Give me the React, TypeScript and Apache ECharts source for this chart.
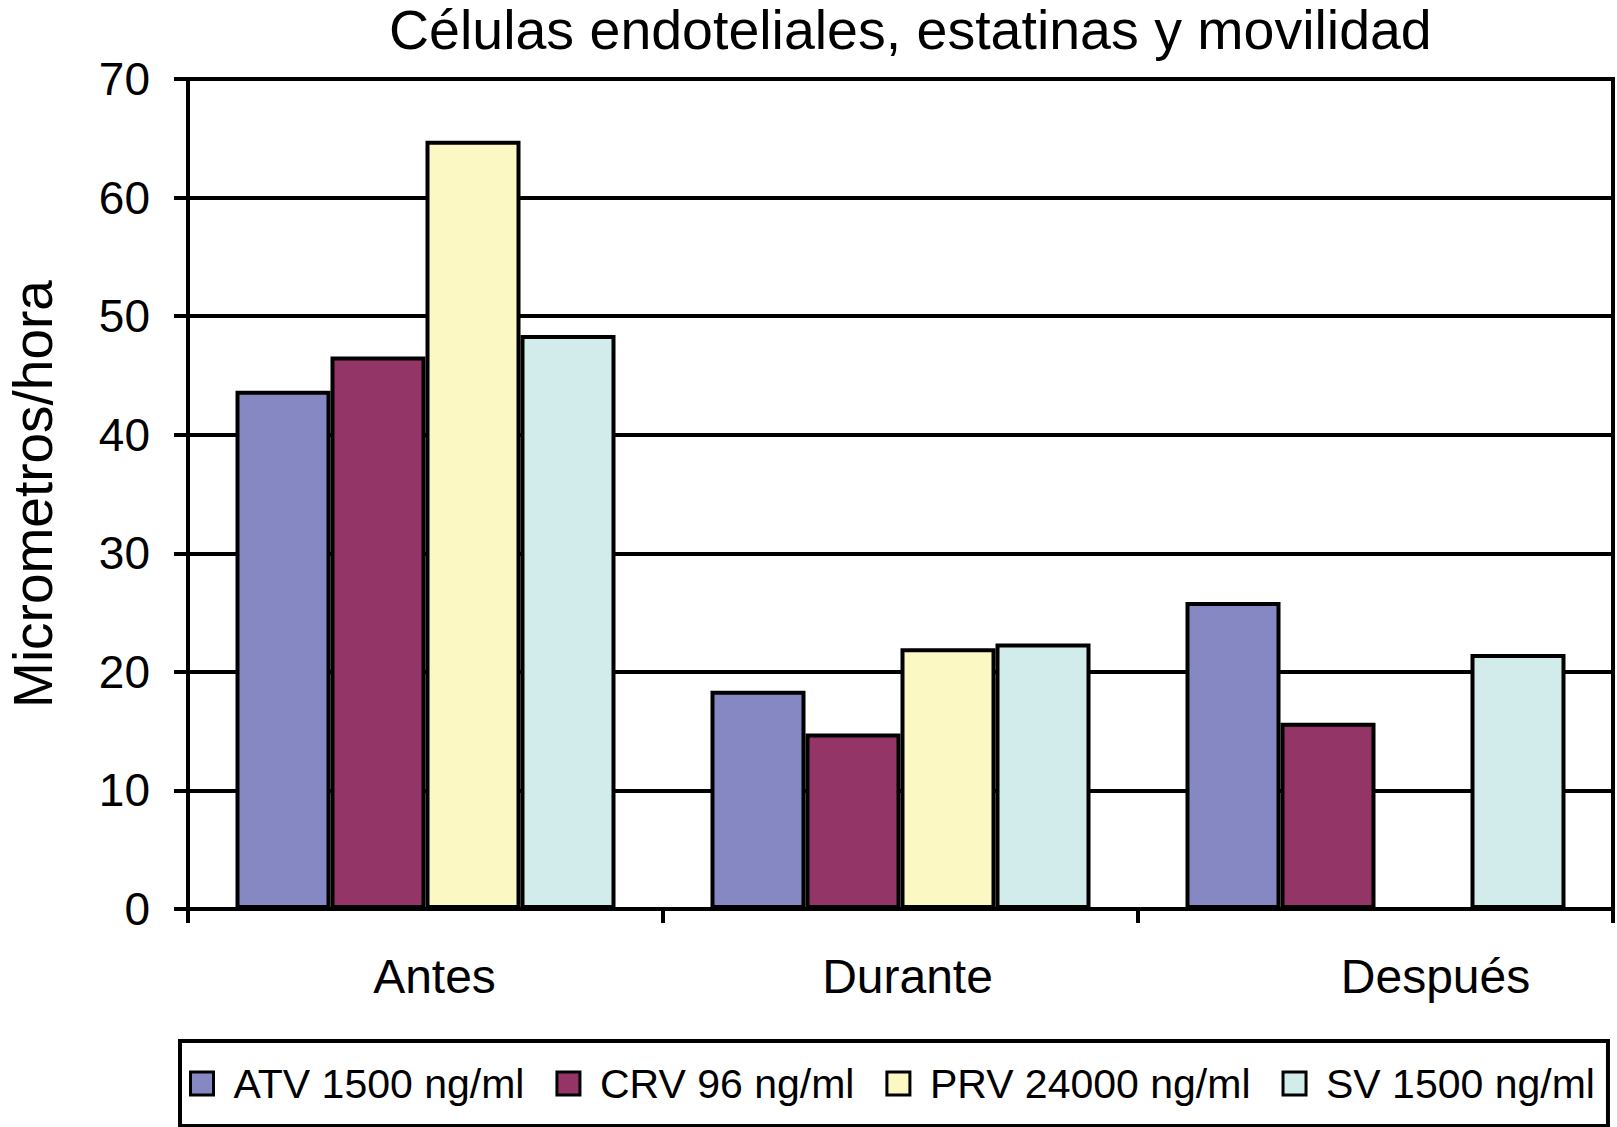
import React, { useEffect, useRef } from "react";
import * as echarts from "echarts";

const categories = ["Antes", "Durante", "Después"];
const seriesNames = ["ATV 1500 ng/ml", "CRV 96 ng/ml", "PRV 24000 ng/ml", "SV 1500 ng/ml"];
const atv = [43.7, 18.4, 25.9];
const crv = [46.6, 14.8, 15.7];
const prv = [64.8, 22.0, null];
const sv = [48.4, 22.4, 21.5];
const colors = ["#8688C3", "#933667", "#FBF8C4", "#D2EBEB"];

const FONT = "Liberation Sans, Arial, Helvetica, sans-serif";

export default function App() {
  const ref = useRef<HTMLDivElement>(null);
  useEffect(() => {
    if (!ref.current) return;
    const chart = echarts.init(ref.current, null, { renderer: "svg" });
    const values = [atv, crv, prv, sv];
    const labelShift: Record<string, number> = { Antes: 18, Durante: 14, "Después": 120 };
    const option = {
      animation: false,
      backgroundColor: "#fff",
      title: {
        text: "Células endoteliales, estatinas y movilidad",
        left: 384,
        top: -3,
        textStyle: { fontFamily: FONT, fontSize: 55.5, fontWeight: "normal", color: "#000" },
      },
      grid: {
        left: 188,
        right: 4,
        top: 79,
        bottom: 218,
        outerBoundsMode: "none",
        containLabel: false,
        show: true,
        borderColor: "#000",
        borderWidth: 4,
        backgroundColor: "transparent",
      },
      legend: {
        left: 180,
        top: 1041,
        width: 1437,
        orient: "horizontal",
        itemWidth: 23,
        itemHeight: 23,
        itemGap: 31,
        icon: "rect",
        borderColor: "#000",
        borderWidth: 4,
        padding: [22, 13, 22, 9],
        itemStyle: { borderColor: "#000", borderWidth: 3 },
        formatter: (name: string) => `{t|${name}}`,
        textStyle: {
          fontFamily: FONT,
          fontSize: 41,
          color: "#000",
          rich: { t: { fontFamily: FONT, fontSize: 41, color: "#000", padding: [0, 0, 0, 15] } },
        },
        data: seriesNames,
      },
      xAxis: {
        type: "category",
        data: categories,
        axisLine: { show: true, lineStyle: { color: "#000", width: 4 } },
        axisTick: { show: true, length: 14, lineStyle: { color: "#000", width: 4 } },
        axisLabel: {
          margin: 43,
          color: "#000",
          fontFamily: FONT,
          fontSize: 48,
          formatter: (v: string) => `{a${categories.indexOf(v)}|${v}}`,
          rich: Object.fromEntries(
            categories.map((c, i) => [
              `a${i}`,
              { fontFamily: FONT, fontSize: 48, color: "#000", padding: [0, 0, 0, labelShift[c] || 0] },
            ])
          ),
        },
        splitLine: { show: false },
      },
      yAxis: {
        type: "value",
        min: 0,
        max: 70,
        interval: 10,
        name: "Micrometros/hora",
        nameLocation: "middle",
        nameGap: 128,
        nameTextStyle: { fontFamily: FONT, fontSize: 55, color: "#000" },
        axisLine: { show: true, lineStyle: { color: "#000", width: 4 } },
        axisTick: { show: true, length: 14, lineStyle: { color: "#000", width: 4 } },
        axisLabel: { margin: 38, color: "#000", fontFamily: FONT, fontSize: 46 },
        splitLine: { show: true, lineStyle: { color: "#000", width: 4 } },
      },
      series: seriesNames.map((name, i) => ({
        name,
        type: "bar",
        data: values[i],
        barWidth: 95,
        barGap: "0%",
        itemStyle: { color: colors[i], borderColor: "#000", borderWidth: 4 },
      })),
    };
    chart.setOption(option as any);
    return () => chart.dispose();
  }, []);
  return (
    <div
      ref={ref}
      style={{ position: "fixed", left: 0, top: 0, width: 1617, height: 1127, background: "#fff" }}
    />
  );
}
